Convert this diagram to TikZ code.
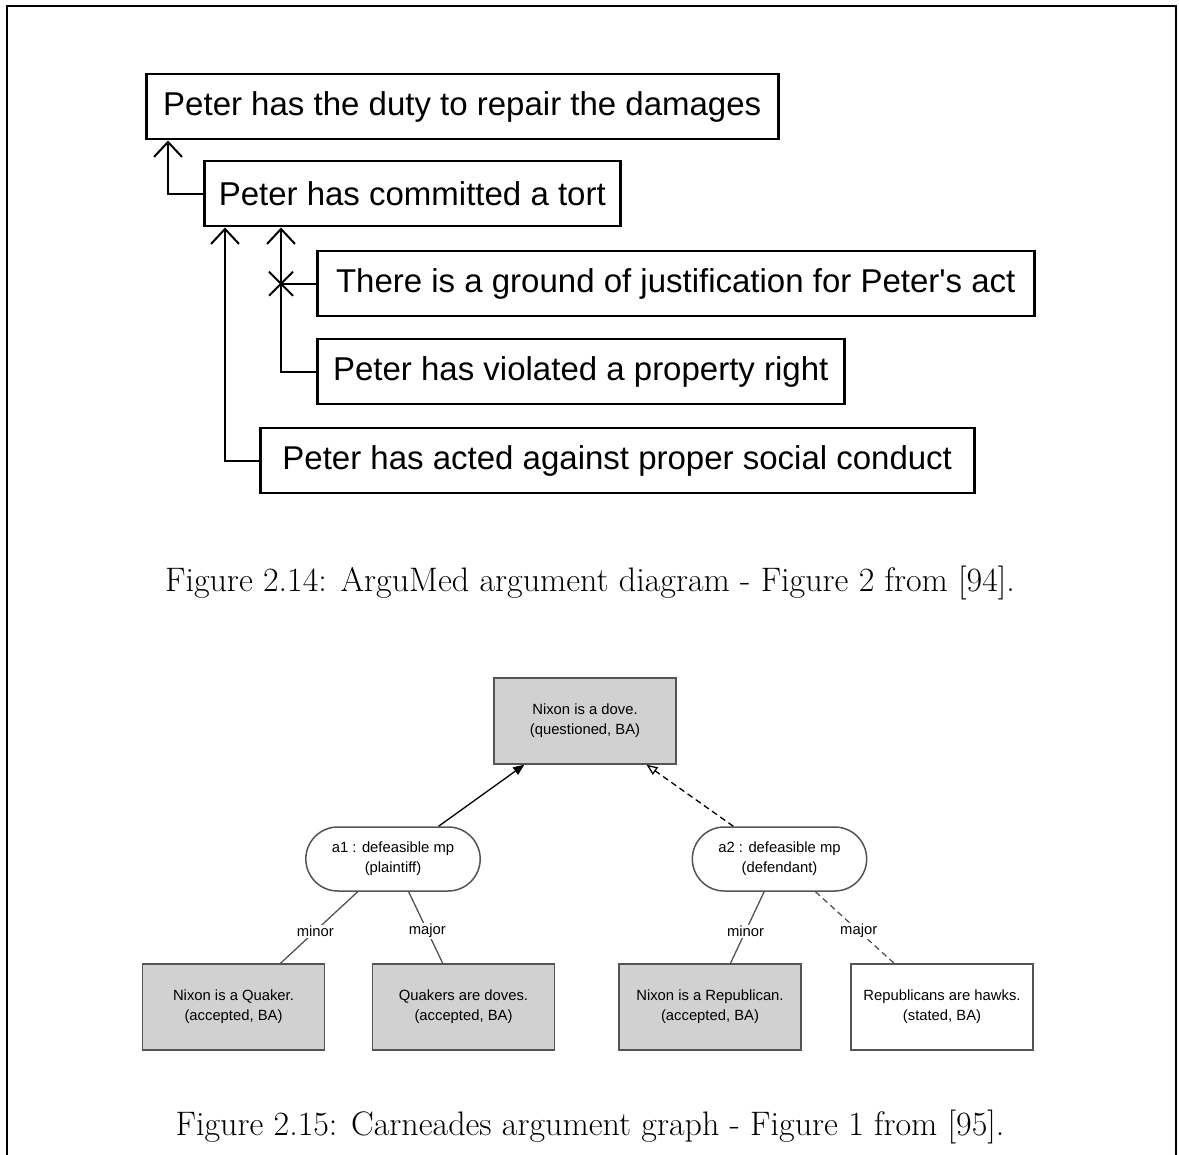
\documentclass[tikz,border=0pt]{standalone}
\usepackage{fontspec}
\usepackage{tikz}
\usetikzlibrary{positioning, calc, shapes.misc, arrows.meta}
\newfontfamily\argufont{Liberation Sans}
\definecolor{propgray}{rgb}{0.82, 0.82, 0.82}
\definecolor{edgegray}{rgb}{0.33, 0.33, 0.33}

\begin{document}
\begin{tikzpicture}[x=1pt, y=-1pt,
		claim/.style={draw, line width=2.5pt, anchor=north west, minimum height=65pt, inner xsep=0pt, font=\argufont\fontsize{33}{40}\selectfont},
		support/.style={line width=2pt, -{Straight Barb[length=15pt, width=28pt]}},
		prop/.style={draw=edgegray, line width=1.5pt, fill=propgray, minimum width=182pt, minimum height=86pt, align=center, font=\argufont\fontsize{14.8}{20}\selectfont},
		argnode/.style={draw=edgegray, line width=1.5pt, fill=white, rounded rectangle, minimum width=181pt, minimum height=64pt, align=center, font=\argufont\fontsize{14.8}{20}\selectfont},
		premise/.style={draw=edgegray, line width=1.3pt},
		role/.style={fill=white, inner sep=1pt, pos=0.55, font=\argufont\fontsize{14.8}{18}\selectfont},
		caption/.style={font=\fontsize{34}{40}\selectfont}]
		\useasboundingbox (0,0) rectangle (1179,1155);
		\draw[line width=2pt] (6.5,1155) -- (6.5,6.5) -- (1176,6.5) -- (1176,1155);
		
		\node[claim, minimum width=632pt] (duty) at (145,73) {Peter has the duty to repair the damages};
		\node[claim, minimum width=416pt] (tort) at (203,160) {Peter has committed a tort};
		\node[claim, minimum width=717pt] (ground) at (316,250) {There is a ground of justification for Peter's act};
		\node[claim, minimum width=527pt] (property) at (316,338) {Peter has violated a property right};
		\node[claim, minimum width=714pt] (conduct) at (259,427) {Peter has acted against proper social conduct};
		
		\draw[support] (tort.west) -| ([xshift=23pt]duty.south west);
		\draw[support] (conduct.west) -| ([xshift=22pt]tort.south west);
		\draw[support] (property.west) -| ([xshift=78pt]tort.south west);
		\coordinate (hit) at ([xshift=78pt]tort.south west |- ground.west);
		\draw[line width=2pt] (ground.west) -- (hit);
		\draw[line width=2pt] ($(hit)+(-12,-12)$) -- ($(hit)+(12,12)$);
		\draw[line width=2pt] ($(hit)+(-12,12)$) -- ($(hit)+(12,-12)$);
		
		\node[caption] (cap14) at (590,583) {Figure 2.14: ArguMed argument diagram - Figure 2 from [94].};
		
		\node[prop] (dove) at (585,721) {Nixon is a dove.\\(questioned, BA)};
		\node[argnode] (a1) at (393,859) {a1 : defeasible mp\\(plaintiff)};
		\node[argnode] (a2) at (779.5,859) {a2 : defeasible mp\\(defendant)};
		\node[prop] (quaker) at (233.5,1007) {Nixon is a Quaker.\\(accepted, BA)};
		\node[prop] (doves) at (463.5,1007) {Quakers are doves.\\(accepted, BA)};
		\node[prop] (republican) at (710,1007) {Nixon is a Republican.\\(accepted, BA)};
		\node[prop, fill=white] (hawks) at (942,1007) {Republicans are hawks.\\(stated, BA)};
		
		\draw[line width=1.3pt, -{Triangle[length=11pt, width=9pt]}] (a1) -- (dove);
		\draw[line width=1.3pt, dashed, dash pattern=on 6pt off 4pt, -{Triangle[open, length=11pt, width=9pt]}] (a2) -- (dove);
		\draw[premise] (a1) -- node[role] {minor} (quaker);
		\draw[premise] (a1) -- node[role] {major} (doves);
		\draw[premise] (a2) -- node[role] {minor} (republican);
		\draw[premise, dash pattern=on 6pt off 4pt] (a2) -- node[role] {major} (hawks);
		
		\node[caption] (cap15) at (590,1127) {Figure 2.15: Carneades argument graph - Figure 1 from [95].};
\end{tikzpicture}
\end{document}
